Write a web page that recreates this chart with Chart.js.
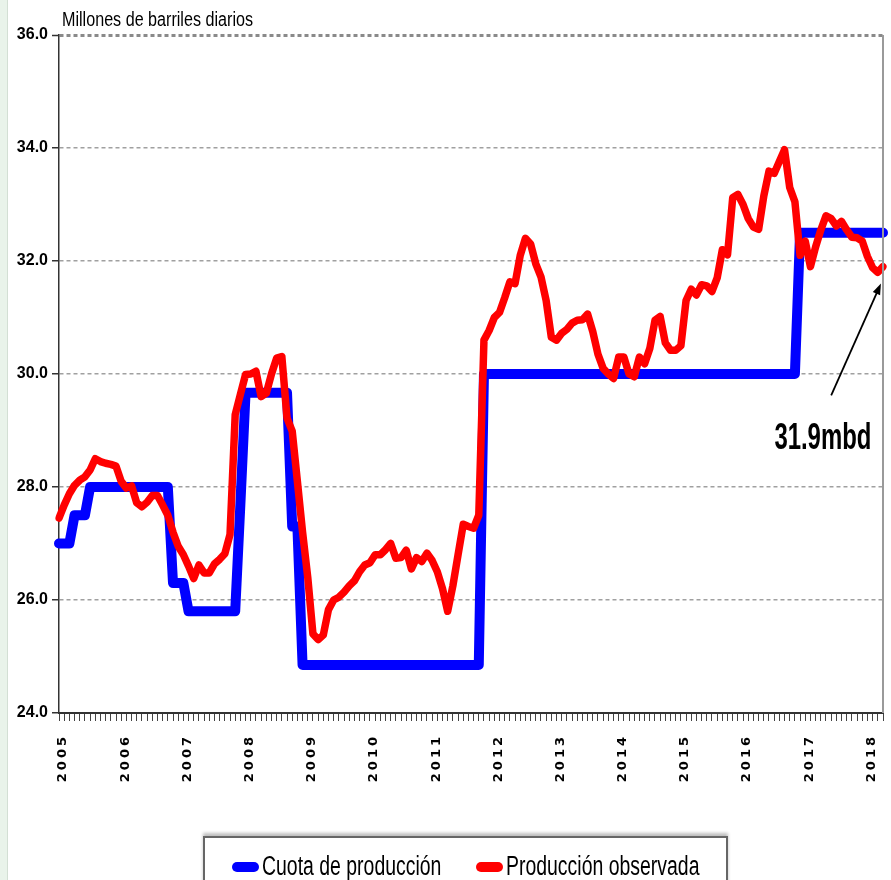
<!DOCTYPE html>
<html lang="es">
<head>
<meta charset="utf-8">
<title>Cuota de producción y producción observada</title>
<script src="https://cdn.jsdelivr.net/npm/chart.js@4.4.1/dist/chart.umd.min.js"></script>
<style>
    html, body { margin: 0; padding: 0; }
    body {
        width: 891px;
        height: 880px;
        overflow: hidden;
        position: relative;
        background: linear-gradient(to right, #e9f3ea 0, #e9f3ea 7px, #d3dfd4 7px, #d3dfd4 8px, #fff 8px);
    }
    #grafico { position: absolute; left: 0; top: 0; }
    #leyenda {
        position: absolute;
        left: 203px;
        top: 836px;
        width: 525px;
        height: 70px;
        box-sizing: border-box;
        border: 2px solid #666;
        box-shadow: 0 -3px 3px rgba(0, 0, 0, 0.25);
        background: #fff;
        display: flex;
        justify-content: center;
        align-items: flex-start;
        gap: 34px;
        padding-top: 15px;
        font-family: 'Liberation Sans', Arial, sans-serif;
        font-size: 27px;
        line-height: 27px;
        color: #000;
    }
    .item { display: flex; align-items: center; height: 27px; }
    .pastilla { width: 27px; height: 10px; border-radius: 5px; margin-right: 3px; flex: none; }
    .texto { display: inline-block; white-space: nowrap; transform-origin: 0 50%; }
</style>
</head>
<body>
<canvas id="grafico" width="891" height="880"></canvas>
<div id="leyenda"></div>
<script>
// ===== DONNÉES (mbd, mensuel janv. 2005 - avr. 2018) =====
const years = ['2005', '2006', '2007', '2008', '2009', '2010', '2011',
               '2012', '2013', '2014', '2015', '2016', '2017', '2018'];
const months = ['01', '02', '03', '04', '05', '06', '07', '08', '09', '10', '11', '12'];
const nMonths = 160;

const unidad = 'Millones de barriles diarios';
const yTicks = [24, 26, 28, 30, 32, 34, 36];

const cuota = [
    27.0, 27.0, 27.0, 27.5, 27.5, 27.5, 28.0, 28.0, 28.0, 28.0, 28.0, 28.0,   // 2005
    28.0, 28.0, 28.0, 28.0, 28.0, 28.0, 28.0, 28.0, 28.0, 28.0, 26.3, 26.3,   // 2006
    26.3, 25.8, 25.8, 25.8, 25.8, 25.8, 25.8, 25.8, 25.8, 25.8, 25.8, 27.7,   // 2007
    29.67, 29.67, 29.67, 29.67, 29.67, 29.67, 29.67, 29.67, 29.67, 27.3, 27.3, 24.85, // 2008
    24.85, 24.85, 24.85, 24.85, 24.85, 24.85, 24.85, 24.85, 24.85, 24.85, 24.85, 24.85, // 2009
    24.85, 24.85, 24.85, 24.85, 24.85, 24.85, 24.85, 24.85, 24.85, 24.85, 24.85, 24.85, // 2010
    24.85, 24.85, 24.85, 24.85, 24.85, 24.85, 24.85, 24.85, 24.85, 24.85, 30.0, 30.0,   // 2011
    30.0, 30.0, 30.0, 30.0, 30.0, 30.0, 30.0, 30.0, 30.0, 30.0, 30.0, 30.0,   // 2012
    30.0, 30.0, 30.0, 30.0, 30.0, 30.0, 30.0, 30.0, 30.0, 30.0, 30.0, 30.0,   // 2013
    30.0, 30.0, 30.0, 30.0, 30.0, 30.0, 30.0, 30.0, 30.0, 30.0, 30.0, 30.0,   // 2014
    30.0, 30.0, 30.0, 30.0, 30.0, 30.0, 30.0, 30.0, 30.0, 30.0, 30.0, 30.0,   // 2015
    30.0, 30.0, 30.0, 30.0, 30.0, 30.0, 30.0, 30.0, 30.0, 30.0, 30.0, 32.5,   // 2016
    32.5, 32.5, 32.5, 32.5, 32.5, 32.5, 32.5, 32.5, 32.5, 32.5, 32.5, 32.5,   // 2017
    32.5, 32.5, 32.5, 32.5                                                    // 2018
];

const produccion = [
    27.45, 27.68, 27.88, 28.03, 28.12, 28.18, 28.30, 28.50, 28.45, 28.42, 28.40, 28.37, // 2005
    28.10, 27.98, 28.02, 27.72, 27.65, 27.73, 27.85, 27.85, 27.68, 27.50, 27.20, 26.95, // 2006
    26.80, 26.60, 26.38, 26.62, 26.48, 26.48, 26.64, 26.72, 26.82, 27.16, 29.28, 29.64, // 2007
    29.99, 30.00, 30.05, 29.60, 29.66, 30.00, 30.28, 30.31, 29.22, 28.99, 28.10, 27.20, // 2008
    26.40, 25.40, 25.30, 25.38, 25.83, 26.00, 26.05, 26.14, 26.25, 26.34, 26.50, 26.62, // 2009
    26.66, 26.80, 26.80, 26.89, 27.00, 26.74, 26.75, 26.88, 26.55, 26.75, 26.68, 26.83, // 2010
    26.70, 26.50, 26.20, 25.80, 26.25, 26.80, 27.34, 27.30, 27.27, 27.50, 30.60, 30.77, // 2011
    31.00, 31.09, 31.35, 31.63, 31.60, 32.10, 32.40, 32.30, 31.95, 31.72, 31.30, 30.65, // 2012
    30.60, 30.72, 30.79, 30.90, 30.95, 30.96, 31.06, 30.75, 30.35, 30.10, 30.00, 29.92, // 2013
    30.30, 30.30, 30.00, 29.95, 30.30, 30.18, 30.45, 30.95, 31.02, 30.55, 30.42, 30.42, // 2014
    30.50, 31.30, 31.50, 31.40, 31.58, 31.56, 31.46, 31.70, 32.20, 32.11, 33.12, 33.18, // 2015
    33.00, 32.75, 32.60, 32.56, 33.15, 33.59, 33.55, 33.76, 33.97, 33.30, 33.05, 32.10, // 2016
    32.35, 31.90, 32.25, 32.55, 32.80, 32.75, 32.62, 32.70, 32.55, 32.42, 32.41, 32.35, // 2017
    32.08, 31.88, 31.80, 31.90                                                          // 2018
];

// annotation : flèche vers le dernier point observé (positions en unités de données)
const flechaDesde = { i: 149, v: 29.62 };
const flechaHasta = { i: 158.6, v: 31.6 };
const etiquetaEn = { i: 147.4, v: 28.68 };

const SANS = "'Liberation Sans', Arial, sans-serif";

// étiquettes mensuelles AAAA-MM
const etiquetas = [];
years.forEach(a => months.forEach(m => etiquetas.push(a + '-' + m)));
etiquetas.length = nMonths;

// ===== PLUGIN : titre d'axe, bord droit, flèche et texte =====
const superposicion = {
    id: 'superposicion',
    afterDatasetsDraw(chart) {
        // les années de l'axe X sont espacées comme dans l'original
        chart.ctx.letterSpacing = '3px';
    },
    afterDraw(chart) {
        const { ctx, chartArea, scales } = chart;
        const x = scales.x, y = scales.y;
        ctx.letterSpacing = '0px';
        ctx.save();

        // bord droit de la zone de tracé
        ctx.strokeStyle = '#9a9a9a';
        ctx.lineWidth = 2;
        ctx.beginPath();
        ctx.moveTo(chartArea.right, chartArea.top);
        ctx.lineTo(chartArea.right, chartArea.bottom);
        ctx.stroke();

        // unité (police étroite comme l'original)
        ctx.fillStyle = '#000';
        ctx.font = '20px ' + SANS;
        ctx.textAlign = 'left';
        ctx.textBaseline = 'alphabetic';
        ctx.fillText(unidad, chartArea.left + 3, chartArea.top - 9, 191);

        // flèche
        const x0 = x.getPixelForValue(flechaDesde.i), y0 = y.getPixelForValue(flechaDesde.v);
        const x1 = x.getPixelForValue(flechaHasta.i), y1 = y.getPixelForValue(flechaHasta.v);
        const ang = Math.atan2(y1 - y0, x1 - x0);
        ctx.strokeStyle = '#000';
        ctx.lineWidth = 1.8;
        ctx.beginPath();
        ctx.moveTo(x0, y0);
        ctx.lineTo(x1 - 8 * Math.cos(ang), y1 - 8 * Math.sin(ang));
        ctx.stroke();
        ctx.beginPath();
        ctx.moveTo(x1, y1);
        ctx.lineTo(x1 - 11 * Math.cos(ang) + 4 * Math.sin(ang), y1 - 11 * Math.sin(ang) - 4 * Math.cos(ang));
        ctx.lineTo(x1 - 11 * Math.cos(ang) - 4 * Math.sin(ang), y1 - 11 * Math.sin(ang) + 4 * Math.cos(ang));
        ctx.closePath();
        ctx.fill();

        // valeur du dernier mois
        const ultimo = produccion[produccion.length - 1];
        ctx.font = 'bold 37px ' + SANS;
        ctx.textAlign = 'center';
        ctx.fillText(ultimo.toFixed(1) + 'mbd', x.getPixelForValue(etiquetaEn.i), y.getPixelForValue(etiquetaEn.v), 97);

        ctx.restore();
    }
};

// ===== GRAPHIQUE =====
const ctx = document.getElementById('grafico').getContext('2d');
const grafico = new Chart(ctx, {
    type: 'line',
    data: {
        labels: etiquetas,
        datasets: [
            {
                label: 'Cuota de producción',
                data: cuota,
                borderColor: '#0000ff',
                backgroundColor: '#0000ff',
                borderWidth: 10,
                pointRadius: 0,
                tension: 0,
                borderJoinStyle: 'round',
                borderCapStyle: 'round',
                order: 1
            },
            {
                label: 'Producción observada',
                data: produccion,
                borderColor: '#ff0000',
                backgroundColor: '#ff0000',
                borderWidth: 7.5,
                pointRadius: 0,
                tension: 0,
                borderJoinStyle: 'round',
                borderCapStyle: 'round',
                order: 0
            }
        ]
    },
    options: {
        responsive: false,
        devicePixelRatio: 1,
        animation: false,
        events: [],
        layout: { padding: { top: 35, right: 8, left: 0, bottom: 0 } },
        plugins: {
            legend: { display: false },
            tooltip: { enabled: false }
        },
        scales: {
            x: {
                type: 'category',
                offset: false,
                afterFit(scale) {
                    scale.height = 167;
                    scale.paddingLeft = 0;
                    scale.paddingRight = 0;
                },
                grid: {
                    drawOnChartArea: false,
                    drawTicks: true,
                    tickLength: 8,
                    tickColor: '#444',
                    tickWidth: 1
                },
                border: { display: true, color: '#333', width: 2 },
                ticks: {
                    z: 1,
                    autoSkip: false,
                    minRotation: 90,
                    maxRotation: 90,
                    padding: 13,
                    labelOffset: 4,
                    color: '#000',
                    font: { family: "'DejaVu Sans', sans-serif", size: 13, weight: 'bold' },
                    callback(val) {
                        const lab = this.getLabelForValue(val);
                        return lab.endsWith('-01') ? lab.slice(0, 4) : '';
                    }
                }
            },
            y: {
                min: yTicks[0],
                max: yTicks[yTicks.length - 1],
                afterFit(scale) { scale.width = 59; },
                afterBuildTicks(scale) { scale.ticks = yTicks.map(v => ({ value: v })); },
                grid: {
                    color: c => c.tick && c.tick.value === 36 ? '#8a8a8a' : '#a0a0a0',
                    lineWidth: c => c.tick && c.tick.value === 36 ? 3 : 1.5,
                    drawTicks: true,
                    tickLength: 7,
                    tickColor: '#333',
                    tickWidth: 1.5
                },
                border: { display: true, color: '#333', width: 1.5, dash: [4, 3] },
                ticks: {
                    padding: 4,
                    color: '#000',
                    font: { family: SANS, size: 16, weight: 'bold' },
                    callback: v => Number(v).toFixed(1)
                }
            }
        }
    },
    plugins: [superposicion]
});

// ===== LÉGENDE (construite depuis les séries) =====
const leyenda = document.getElementById('leyenda');
const estrechez = 0.72;   // texte condensé comme dans l'original
grafico.data.datasets.forEach(ds => {
    const item = document.createElement('div');
    item.className = 'item';
    const pastilla = document.createElement('span');
    pastilla.className = 'pastilla';
    pastilla.style.background = ds.borderColor;
    const texto = document.createElement('span');
    texto.className = 'texto';
    texto.textContent = ds.label;
    item.appendChild(pastilla);
    item.appendChild(texto);
    leyenda.appendChild(item);
    const w = texto.offsetWidth;
    texto.style.transform = 'scaleX(' + estrechez + ')';
    texto.style.marginRight = (-w * (1 - estrechez)) + 'px';
});
</script>
</body>
</html>
